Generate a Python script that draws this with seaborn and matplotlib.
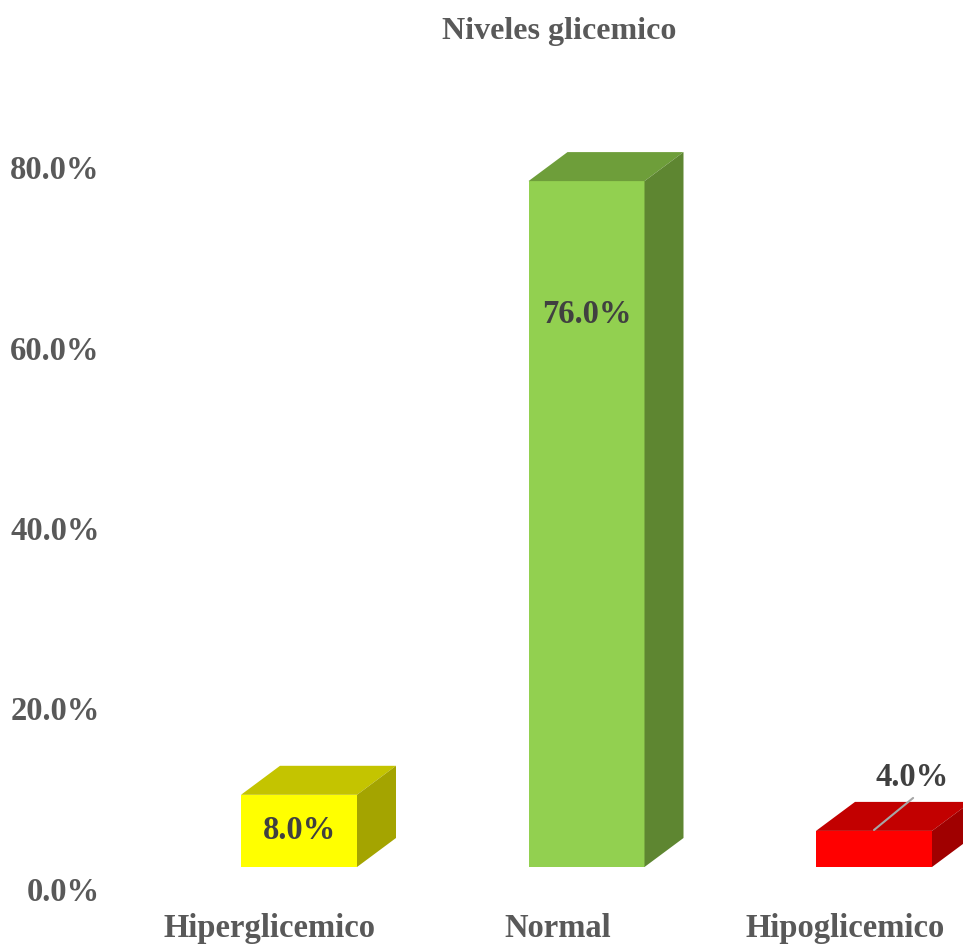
import numpy as np
import pandas as pd
import seaborn as sns
import matplotlib
matplotlib.use("Agg")
import matplotlib.pyplot as plt
from matplotlib.patches import Polygon
from matplotlib.transforms import ScaledTranslation

# ---- data ----
categories = ["Hiperglicemico", "Normal", "Hipoglicemico"]
values = [8.0, 76.0, 4.0]
value_labels = ["8.0%", "76.0%", "4.0%"]
yticks = [0, 20, 40, 60, 80]
ytick_labels = ["0.0%", "20.0%", "40.0%", "60.0%", "80.0%"]
title = "Niveles glicemico"

front_colors = ["#FFFF00", "#92D050", "#FF0000"]
top_colors = ["#C4C400", "#6E9E3A", "#C20000"]
side_colors = ["#A4A400", "#5E8631", "#A00000"]

sns.set_theme(style="white")
plt.rcParams["font.family"] = ["Liberation Serif", "DejaVu Serif"]
plt.rcParams["font.weight"] = "bold"

W, H = 963, 949
fig = plt.figure(figsize=(W / 100, H / 100), dpi=100)
px_per_cat = 287.5
left_px = 299 - 0.5 * px_per_cat
bottom_px = H - 867
top_px = 100
ax = fig.add_axes([left_px / W, bottom_px / H, (W - left_px) / W, (H - top_px - bottom_px) / H])

df = pd.DataFrame({"cat": categories, "val": values})
sns.barplot(data=df, x="cat", y="val", hue="cat", palette=front_colors,
            width=116 / px_per_cat, legend=False, ax=ax, saturation=1, linewidth=0)

xmax = -0.5 + (W - left_px) / px_per_cat
ax.set_xlim(-0.5, xmax)
ax.set_ylim(0, (867 - top_px) / 9.025)

dx = 39 / px_per_cat
dy = 29 / 9.025

for i, p in enumerate(ax.patches[:3]):
    x0 = p.get_x()
    x1 = x0 + p.get_width()
    h = p.get_height()
    top = Polygon([(x0, h), (x1, h), (x1 + dx, h + dy), (x0 + dx, h + dy)],
                  closed=True, facecolor=top_colors[i], edgecolor="none", clip_on=False)
    side = Polygon([(x1, 0), (x1 + dx, dy), (x1 + dx, h + dy), (x1, h)],
                   closed=True, facecolor=side_colors[i], edgecolor="none", clip_on=False)
    ax.add_patch(top)
    ax.add_patch(side)

fs = 23.5
# data labels
label_color = "#404040"
ax.text(0, 4.0, value_labels[0], ha="center", va="center", fontsize=fs,
        fontweight="bold", color=label_color)
ax.text(1, 61.2, value_labels[1], ha="center", va="center", fontsize=fs,
        fontweight="bold", color=label_color)
ax.text(2.132, 9.9, value_labels[2], ha="center", va="center", fontsize=fs,
        fontweight="bold", color=label_color)
ax.plot([2.0, 2.136], [4.1, 7.65], color="#A6A6A6", lw=1.5, clip_on=False)

# axes styling
for s in ax.spines.values():
    s.set_visible(False)
ax.set_xlabel("")
ax.set_ylabel("")
ax.set_yticks(yticks)
ax.set_yticklabels(ytick_labels)
ax.tick_params(axis="y", length=0, pad=40, labelsize=fs, labelcolor="#595959")
ax.tick_params(axis="x", length=0, pad=33, labelsize=fs, labelcolor="#595959")
for lab in ax.get_yticklabels():
    lab.set_fontweight("bold")
    lab.set_transform(lab.get_transform() + ScaledTranslation(0, -22 / 100, fig.dpi_scale_trans))
for lab in ax.get_xticklabels():
    lab.set_fontweight("bold")
    lab.set_transform(lab.get_transform() + ScaledTranslation(-29 / 100, 0, fig.dpi_scale_trans))

ax.set_title(title, fontsize=23, fontweight="bold", color="#595959", pad=44)

fig.savefig("out.png", dpi=100, facecolor="white")
